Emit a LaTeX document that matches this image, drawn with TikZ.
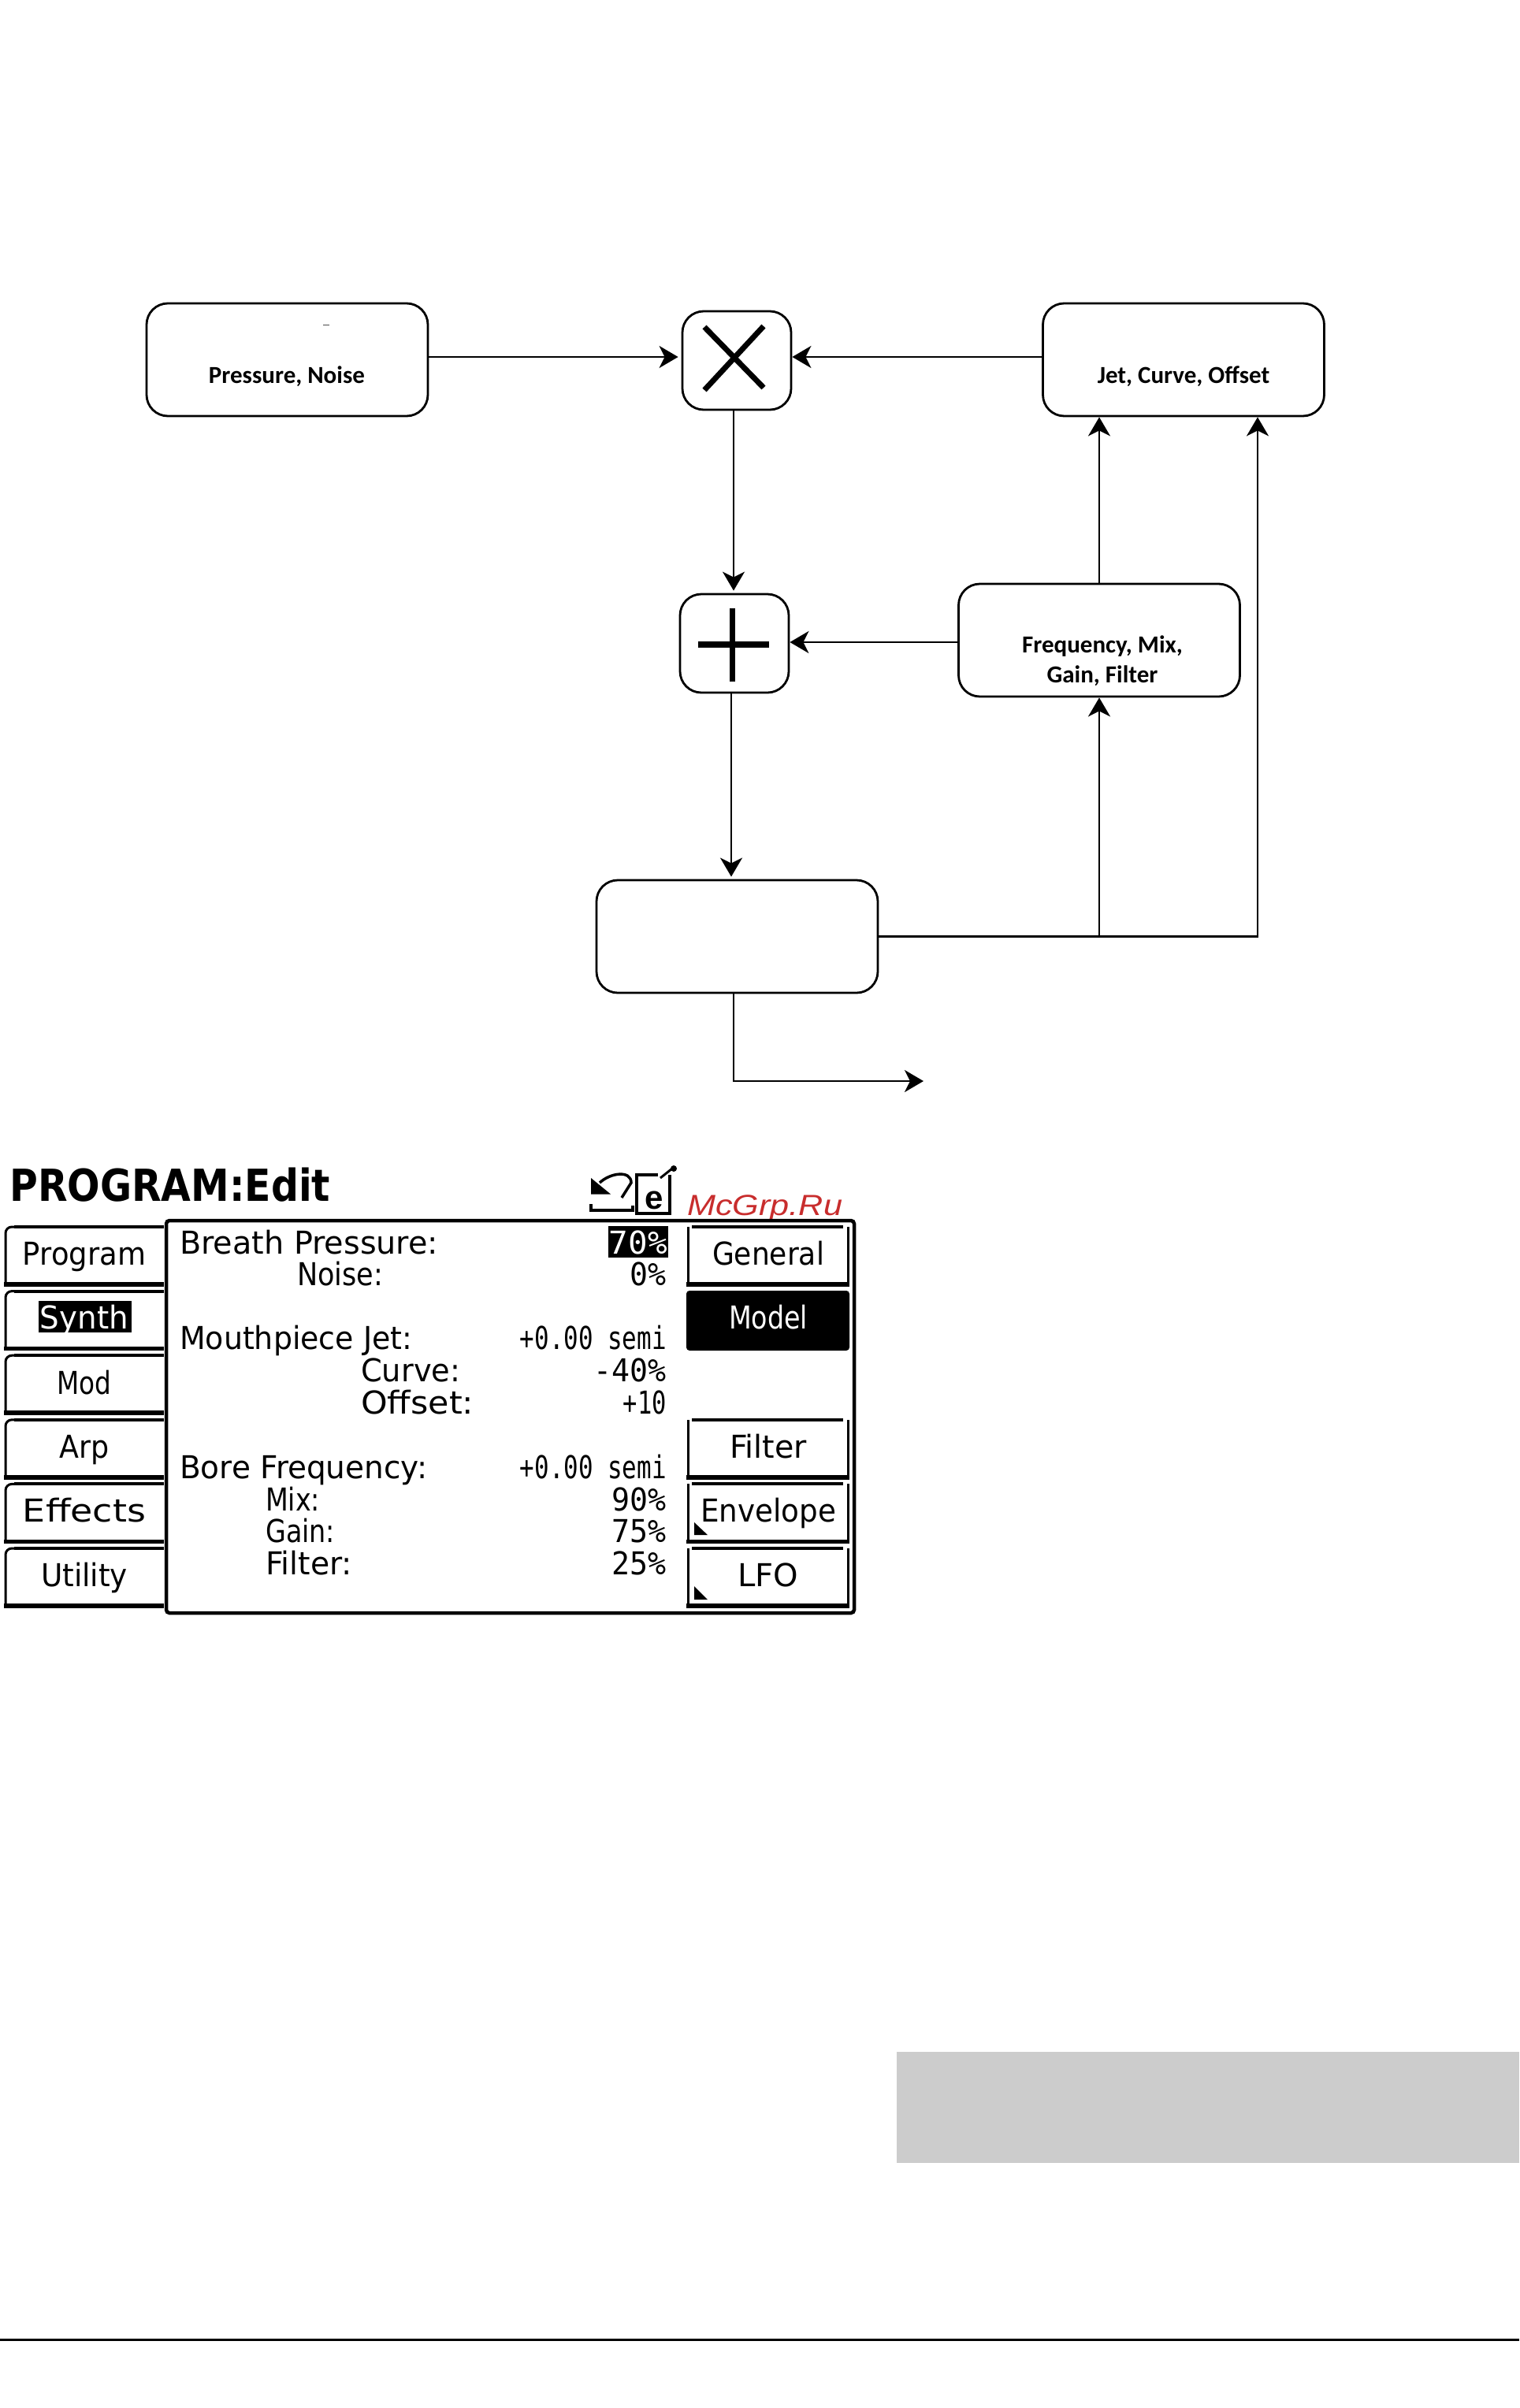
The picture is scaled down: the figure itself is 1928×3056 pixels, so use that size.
\documentclass[tikz,border=0pt]{standalone}
\usepackage{fontspec}
\usepackage{graphicx}
\usetikzlibrary{arrows.meta}
\setmainfont{Carlito}
\newfontfamily\lcd{DejaVu Sans}
\newfontfamily\lcdnum{DejaVu Sans Mono}
\newfontfamily\wm{Liberation Sans}
\newcommand{\fw}[2]{\resizebox{#1pt}{\height}{#2}}
\definecolor{wmred}{RGB}{200,45,45}
\definecolor{band}{RGB}{204,204,204}
\tikzset{
 x=1pt,y=-1pt,
 blockbox/.style={draw,line width=2.8pt,rounded corners=27pt,minimum width=357pt,minimum height=143pt,inner sep=0pt},
 opbox/.style={draw,line width=2.8pt,rounded corners=27pt,minimum width=138pt,minimum height=125pt,inner sep=0pt},
 flow/.style={line width=2.8pt,-{Stealth[length=24pt,width=28pt,inset=7pt]}},
 wire/.style={line width=2.8pt},
 blabel/.style={font=\fontsize{31}{38}\selectfont\bfseries,anchor=base,inner sep=0pt},
 lcdtxt/.style={font=\fontsize{40}{44}\lcd,inner sep=0pt,anchor=base west},
 lcdval/.style={font=\fontsize{40}{44}\lcdnum,inner sep=0pt,anchor=base east},
 lcdctr/.style={font=\fontsize{40}{44}\lcd,inner sep=0pt,anchor=base},
 tabtop/.style={line width=4pt},
 tabbot/.style={line width=5.5pt},
 tabside/.style={line width=3pt},
}
\begin{document}
\begin{tikzpicture}
\useasboundingbox (0,0) rectangle (1928,3056);
% blocks
\node[blockbox] (pn) at (364.5,456.5) {};
\node[blockbox] (jet) at (1502,456.5) {};
\node[blockbox] (freq) at (1395,812.5) {};
\node[blockbox] (low) at (935.5,1188.5) {};
\node[opbox] (times) at (935,457.5) {};
\node[opbox] (plus) at (932,816.5) {};
\node[blabel] (pnl) at (364,486) {Pressure, Noise};
\node[blabel] (jetl) at (1502,486) {Jet, Curve, Offset};
\node[blabel] (freql) at (1399,828) {Frequency, Mix,};
\node[blabel] (freqm) at (1399,866) {Gain, Filter};
\draw[line width=1pt,black!70] (410,412) -- (418,412);
% operator glyphs
\draw[line width=7pt] (894,415) -- (969,492);
\draw[line width=7pt] (969,414) -- (894,495);
\draw[line width=7pt] (929,772) -- (929,865);
\draw[line width=8pt] (886,818) -- (976,818);
% connectors
\draw[flow,shorten >=4pt] ([yshift=3.5pt]pn.east) -- ([yshift=3.5pt]pn.east -| times.west);
\draw[flow] ([yshift=3.5pt]jet.west) -- ([yshift=3.5pt]jet.west -| times.east);
\draw[flow,shorten >=3pt] ([xshift=-4pt]times.south) -- ([xshift=-4pt]times.south |- plus.north);
\draw[flow] ([yshift=-2.5pt]freq.west) -- ([yshift=-2.5pt]freq.west -| plus.east);
\draw[flow,shorten >=3pt] ([xshift=-4pt]plus.south) -- ([xshift=-4pt]plus.south |- low.north);
\draw[flow] (freq.north) -- (freq.north |- jet.south);
\draw[wire] (low.east) -- (low.east -| freq.south);
\draw[flow] (low.east -| freq.south) -- (freq.south);
\draw[flow] (low.east) -| ([xshift=94pt]jet.south);
\coordinate (out) at (1172,1372);
\draw[flow] ([xshift=-4.5pt]low.south) |- (out);
% screen title
\node[font=\fontsize{56}{60}\lcd\bfseries,inner sep=0pt,anchor=base west] (title) at (12,1524) {\fw{407}{PROGRAM:Edit}};
% icons
\fill (750,1495) -- (750,1515.5) -- (775,1515.5) -- cycle;
\draw[line width=3.5pt] (761,1501) .. controls (775,1488) and (801,1485) .. (801,1501) -- (789,1520);
\draw[line width=4pt] (750,1528) -- (750,1536) -- (803,1536) -- (803,1530);
\draw[line width=3.5pt] (835,1491) -- (808,1491) -- (808,1540) -- (850,1540) -- (850,1491);
\draw[line width=3pt] (838,1495) -- (853,1483);
\fill (855,1483) circle (4pt);
\node[font=\fontsize{42}{46}\wm\bfseries,inner sep=0pt,anchor=base] (eicon) at (830,1534) {e};
\node[font=\fontsize{37}{44}\wm\itshape,text=wmred,inner sep=0pt,anchor=base west] (mark) at (872,1542) {\fw{197}{McGrp.Ru}};
% main panel
\draw[line width=4.5pt,rounded corners=4pt] (211,2047) -- (211,1549) -- (1084,1549) -- (1084,2047) -- cycle;
% left tabs
\foreach \i/\lab/\base/\tw in {0/Program/1605/156,1/Synth/1686/112,2/Mod/1769/69,3/Arp/1850/63,4/Effects/1931/156,5/Utility/2013/110}{
  \pgfmathsetmacro{\ta}{1557+81.6*\i}
  \pgfmathsetmacro{\tb}{1630+81.6*\i}
  \draw[tabtop,line cap=butt] (208,\ta) -- (18,\ta);
  \draw[tabside,rounded corners=8pt] (18,\ta) -- (7,\ta) -- (7,\tb);
  \draw[tabbot] (5,\tb) -- (208,\tb);
  \ifnum\i=1\relax
    \fill (49,1651) rectangle (167,1691);
    \node[lcdctr,text=white] (tab\lab) at (107,\base) {\fw{\tw}{\lab}};
  \else
    \node[lcdctr] (tab\lab) at (107,\base) {\fw{\tw}{\lab}};
  \fi
}
% right buttons
\foreach \i/\lab/\base/\tw in {0/General/1605/142,3/Filter/1850/98,4/Envelope/1931/172,5/LFO/2013/77}{
  \pgfmathsetmacro{\ta}{1557+81.6*\i}
  \pgfmathsetmacro{\tb}{1630+81.6*\i}
  \draw[tabtop] (878,\ta) -- (1070,\ta);
  \draw[tabside] (873,\ta) -- (873,\tb);
  \draw[tabside] (1076,\ta) -- (1076,\tb);
  \draw[tabbot] (871,\tb) -- (1078,\tb);
  \node[lcdctr] (btn\lab) at (975,\base) {\fw{\tw}{\lab}};
}
\fill[rounded corners=4pt] (871,1638) rectangle (1078,1714);
\node[lcdctr,text=white] (btnModel) at (975,1686) {\fw{100}{Model}};
\fill (881,1932) -- (881,1948) -- (898,1948) -- cycle;
\fill (881,2013) -- (881,2030) -- (898,2030) -- cycle;
% parameter texts
\node[lcdtxt] (p1) at (228,1591) {\fw{328}{Breath Pressure:}};
\node[lcdtxt] (p2) at (377,1631) {\fw{109}{Noise:}};
\node[lcdtxt] (p3) at (228,1712) {\fw{295}{Mouthpiece Jet:}};
\node[lcdtxt] (p4) at (458,1753) {\fw{126}{Curve:}};
\node[lcdtxt] (p5) at (458,1794) {\fw{143}{Offset:}};
\node[lcdtxt] (p6) at (228,1876) {\fw{314}{Bore Frequency:}};
\node[lcdtxt] (p7) at (337,1917) {\fw{69}{Mix:}};
\node[lcdtxt] (p8) at (337,1957) {\fw{88}{Gain:}};
\node[lcdtxt] (p9) at (337,1998) {\fw{110}{Filter:}};
\fill (772,1556) rectangle (848,1596);
\node[lcdval,text=white] (v1) at (847,1591) {\fw{74}{70\%}};
\node[lcdval] (v2) at (846,1631) {\fw{46}{0\%}};
\node[lcdval] (v3) at (846,1712) {\fw{186}{+0.00 semi}};
\node[lcdval] (v4) at (846,1753) {\fw{92}{-40\%}};
\node[lcdval] (v5) at (846,1794) {\fw{55}{+10}};
\node[lcdval] (v6) at (846,1876) {\fw{186}{+0.00 semi}};
\node[lcdval] (v7) at (846,1917) {\fw{69}{90\%}};
\node[lcdval] (v8) at (846,1957) {\fw{69}{75\%}};
\node[lcdval] (v9) at (846,1998) {\fw{69}{25\%}};
% page furniture
\fill[band] (1138,2604) rectangle (1928,2745);
\draw[line width=3pt] (0,2969) -- (1928,2969);
\end{tikzpicture}
\end{document}
